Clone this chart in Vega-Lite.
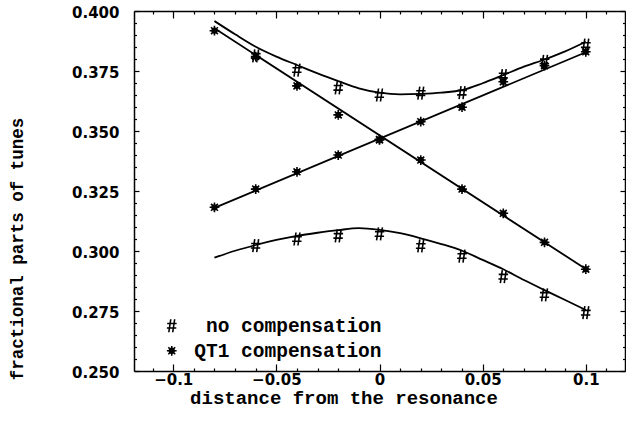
{
  "$schema": "https://vega.github.io/schema/vega-lite/v6.json",
  "width": 491,
  "height": 360,
  "autosize": "none",
  "padding": {"left": 134, "top": 11, "right": 1, "bottom": 56},
  "background": "white",
  "config": {
    "view": {"stroke": null},
    "axis": {"domainColor": "black", "domainWidth": 1.5, "tickColor": "black", "tickWidth": 1.2, "labelColor": "black", "titleColor": "black", "grid": false}
  },
  "datasets": {
    "curves": [
      {"curve": "upper", "x": -0.08, "y": 0.3958},
      {"curve": "upper", "x": -0.07, "y": 0.3903},
      {"curve": "upper", "x": -0.06, "y": 0.3851},
      {"curve": "upper", "x": -0.05, "y": 0.3810},
      {"curve": "upper", "x": -0.04, "y": 0.3775},
      {"curve": "upper", "x": -0.03, "y": 0.3740},
      {"curve": "upper", "x": -0.02, "y": 0.3708},
      {"curve": "upper", "x": -0.01, "y": 0.3678},
      {"curve": "upper", "x": 0, "y": 0.3660},
      {"curve": "upper", "x": 0.01, "y": 0.3653},
      {"curve": "upper", "x": 0.02, "y": 0.3655},
      {"curve": "upper", "x": 0.03, "y": 0.3660},
      {"curve": "upper", "x": 0.04, "y": 0.3670},
      {"curve": "upper", "x": 0.05, "y": 0.3699},
      {"curve": "upper", "x": 0.06, "y": 0.3733},
      {"curve": "upper", "x": 0.07, "y": 0.3768},
      {"curve": "upper", "x": 0.08, "y": 0.3798},
      {"curve": "upper", "x": 0.09, "y": 0.3832},
      {"curve": "upper", "x": 0.1, "y": 0.3872},
      {"curve": "lower", "x": -0.08, "y": 0.2972},
      {"curve": "lower", "x": -0.07, "y": 0.3001},
      {"curve": "lower", "x": -0.06, "y": 0.3025},
      {"curve": "lower", "x": -0.05, "y": 0.3046},
      {"curve": "lower", "x": -0.04, "y": 0.3063},
      {"curve": "lower", "x": -0.03, "y": 0.3076},
      {"curve": "lower", "x": -0.02, "y": 0.3087},
      {"curve": "lower", "x": -0.01, "y": 0.3095},
      {"curve": "lower", "x": 0, "y": 0.3088},
      {"curve": "lower", "x": 0.01, "y": 0.3074},
      {"curve": "lower", "x": 0.02, "y": 0.3053},
      {"curve": "lower", "x": 0.03, "y": 0.3029},
      {"curve": "lower", "x": 0.04, "y": 0.3001},
      {"curve": "lower", "x": 0.05, "y": 0.2963},
      {"curve": "lower", "x": 0.06, "y": 0.2924},
      {"curve": "lower", "x": 0.07, "y": 0.2879},
      {"curve": "lower", "x": 0.08, "y": 0.2837},
      {"curve": "lower", "x": 0.09, "y": 0.2796},
      {"curve": "lower", "x": 0.1, "y": 0.2754},
      {"curve": "down", "x": -0.08, "y": 0.3928},
      {"curve": "down", "x": 0.1, "y": 0.2925},
      {"curve": "up", "x": -0.08, "y": 0.3180},
      {"curve": "up", "x": 0.1, "y": 0.3828}
    ],
    "points": [
      {"series": "no compensation", "x": -0.06, "y": 0.3813},
      {"series": "no compensation", "x": -0.04, "y": 0.3754},
      {"series": "no compensation", "x": -0.02, "y": 0.3680},
      {"series": "no compensation", "x": 0, "y": 0.3650},
      {"series": "no compensation", "x": 0.02, "y": 0.3658},
      {"series": "no compensation", "x": 0.04, "y": 0.3660},
      {"series": "no compensation", "x": 0.06, "y": 0.3731},
      {"series": "no compensation", "x": 0.08, "y": 0.3790},
      {"series": "no compensation", "x": 0.1, "y": 0.3858},
      {"series": "no compensation", "x": -0.06, "y": 0.3022},
      {"series": "no compensation", "x": -0.04, "y": 0.3050},
      {"series": "no compensation", "x": -0.02, "y": 0.3063},
      {"series": "no compensation", "x": 0, "y": 0.3071},
      {"series": "no compensation", "x": 0.02, "y": 0.3021},
      {"series": "no compensation", "x": 0.04, "y": 0.2979},
      {"series": "no compensation", "x": 0.06, "y": 0.2893},
      {"series": "no compensation", "x": 0.08, "y": 0.2817},
      {"series": "no compensation", "x": 0.1, "y": 0.2743},
      {"series": "QT1 compensation", "x": -0.08, "y": 0.3918},
      {"series": "QT1 compensation", "x": -0.06, "y": 0.3810},
      {"series": "QT1 compensation", "x": -0.04, "y": 0.3688},
      {"series": "QT1 compensation", "x": -0.02, "y": 0.3567},
      {"series": "QT1 compensation", "x": 0, "y": 0.3463},
      {"series": "QT1 compensation", "x": 0.02, "y": 0.3379},
      {"series": "QT1 compensation", "x": 0.04, "y": 0.3258},
      {"series": "QT1 compensation", "x": 0.06, "y": 0.3157},
      {"series": "QT1 compensation", "x": 0.08, "y": 0.3036},
      {"series": "QT1 compensation", "x": 0.1, "y": 0.2924},
      {"series": "QT1 compensation", "x": -0.08, "y": 0.3182},
      {"series": "QT1 compensation", "x": -0.06, "y": 0.3258},
      {"series": "QT1 compensation", "x": -0.04, "y": 0.3330},
      {"series": "QT1 compensation", "x": -0.02, "y": 0.3400},
      {"series": "QT1 compensation", "x": 0, "y": 0.3465},
      {"series": "QT1 compensation", "x": 0.02, "y": 0.3539},
      {"series": "QT1 compensation", "x": 0.04, "y": 0.3599},
      {"series": "QT1 compensation", "x": 0.06, "y": 0.3705},
      {"series": "QT1 compensation", "x": 0.08, "y": 0.3772},
      {"series": "QT1 compensation", "x": 0.1, "y": 0.3830}
    ]
  },
  "layer": [
    {
      "data": {"name": "curves"},
      "mark": {"type": "line", "color": "black", "strokeWidth": 1.8, "interpolate": "monotone"},
      "encoding": {
        "x": {
          "field": "x", "type": "quantitative",
          "scale": {"domain": [-0.119, 0.119], "nice": false, "zero": false},
          "axis": {
            "orient": "bottom",
            "values": [-0.11, -0.1, -0.09, -0.08, -0.07, -0.06, -0.05, -0.04, -0.03, -0.02, -0.01, 0, 0.01, 0.02, 0.03, 0.04, 0.05, 0.06, 0.07, 0.08, 0.09, 0.1, 0.11],
            "tickSize": {"condition": {"test": "abs(datum.value*20 - round(datum.value*20)) < 0.001", "value": -7}, "value": -3},
            "labelExpr": "abs(datum.value*20 - round(datum.value*20)) < 0.001 ? format(datum.value, '.2~f') : ''",
            "labelFont": "DejaVu Sans", "labelFontWeight": "bold", "labelFontSize": 15,
            "labelPadding": 8, "labelFlush": false, "labelOverlap": false,
            "title": "distance from the resonance",
            "titleFont": "Liberation Mono", "titleFontSize": 19, "titleFontWeight": "bold",
            "titleX": 209.5, "titleY": 32.5, "titleBaseline": "alphabetic", "titleAlign": "center"
          }
        },
        "y": {
          "field": "y", "type": "quantitative",
          "scale": {"domain": [0.25, 0.4], "nice": false, "zero": false},
          "axis": {
            "orient": "left",
            "values": [0.25, 0.255, 0.26, 0.265, 0.27, 0.275, 0.28, 0.285, 0.29, 0.295, 0.3, 0.305, 0.31, 0.315, 0.32, 0.325, 0.33, 0.335, 0.34, 0.345, 0.35, 0.355, 0.36, 0.365, 0.37, 0.375, 0.38, 0.385, 0.39, 0.395, 0.4],
            "tickSize": {"condition": {"test": "abs(datum.value*40 - round(datum.value*40)) < 0.001", "value": -5}, "value": -2.5},
            "labelExpr": "abs(datum.value*40 - round(datum.value*40)) < 0.001 ? format(datum.value, '.3f') : ''",
            "labelFont": "DejaVu Sans", "labelFontWeight": "bold", "labelFontSize": 15,
            "labelPadding": 20, "labelOverlap": false, "labelFlush": false, "labelOffset": 1.5,
            "title": "fractional parts of tunes",
            "titleFont": "Liberation Mono", "titleFontSize": 17.5, "titleFontWeight": "bold",
            "titleX": -112, "titleY": 237.5, "titleAngle": 270, "titleBaseline": "alphabetic", "titleAlign": "center"
          }
        },
        "detail": {"field": "curve", "type": "nominal"}
      }
    },
    {
      "data": {"name": "points"},
      "mark": {"type": "point", "stroke": "black", "strokeWidth": 1.6, "opacity": 1, "size": 169, "filled": false},
      "encoding": {
        "x": {
          "field": "x", "type": "quantitative",
          "axis": {
            "orient": "top",
            "values": [-0.11, -0.1, -0.09, -0.08, -0.07, -0.06, -0.05, -0.04, -0.03, -0.02, -0.01, 0, 0.01, 0.02, 0.03, 0.04, 0.05, 0.06, 0.07, 0.08, 0.09, 0.1, 0.11],
            "tickSize": {"condition": {"test": "abs(datum.value*20 - round(datum.value*20)) < 0.001", "value": -7}, "value": -3},
            "labels": false, "title": null
          }
        },
        "y": {
          "field": "y", "type": "quantitative",
          "axis": {
            "orient": "right",
            "values": [0.25, 0.255, 0.26, 0.265, 0.27, 0.275, 0.28, 0.285, 0.29, 0.295, 0.3, 0.305, 0.31, 0.315, 0.32, 0.325, 0.33, 0.335, 0.34, 0.345, 0.35, 0.355, 0.36, 0.365, 0.37, 0.375, 0.38, 0.385, 0.39, 0.395, 0.4],
            "tickSize": {"condition": {"test": "abs(datum.value*40 - round(datum.value*40)) < 0.001", "value": -5}, "value": -2.5},
            "labels": false, "title": null
          }
        },
        "shape": {
          "field": "series", "type": "nominal",
          "scale": {
            "domain": ["no compensation", "QT1 compensation"],
            "range": [
              "M-0.15,-1L-0.45,1M0.45,-1L0.15,1M-0.7,-0.35L0.75,-0.35M-0.75,0.35L0.7,0.35",
              "M0,-0.75L0,0.75M-0.75,0L0.75,0M-0.53,-0.53L0.53,0.53M-0.53,0.53L0.53,-0.53M0.4,0L0.28,0.28L0,0.4L-0.28,0.28L-0.4,0L-0.28,-0.28L0,-0.4L0.28,-0.28ZM0.15,0L0,0.15L-0.15,0L0,-0.15Z"
            ]
          },
          "legend": {
            "orient": "none", "legendX": 28, "legendY": 305, "title": null,
            "labelFont": "Liberation Mono", "labelFontSize": 19.5, "labelFontWeight": "bold", "labelColor": "black",
            "labelAlign": "right", "labelOffset": 200, "rowPadding": 4, "padding": 0, "labelLimit": 400,
            "symbolStrokeWidth": 1.6, "symbolStrokeColor": "black", "symbolSize": 169, "symbolFillColor": "transparent"
          }
        }
      }
    }
  ],
  "resolve": {"axis": {"x": "independent", "y": "independent"}}
}
